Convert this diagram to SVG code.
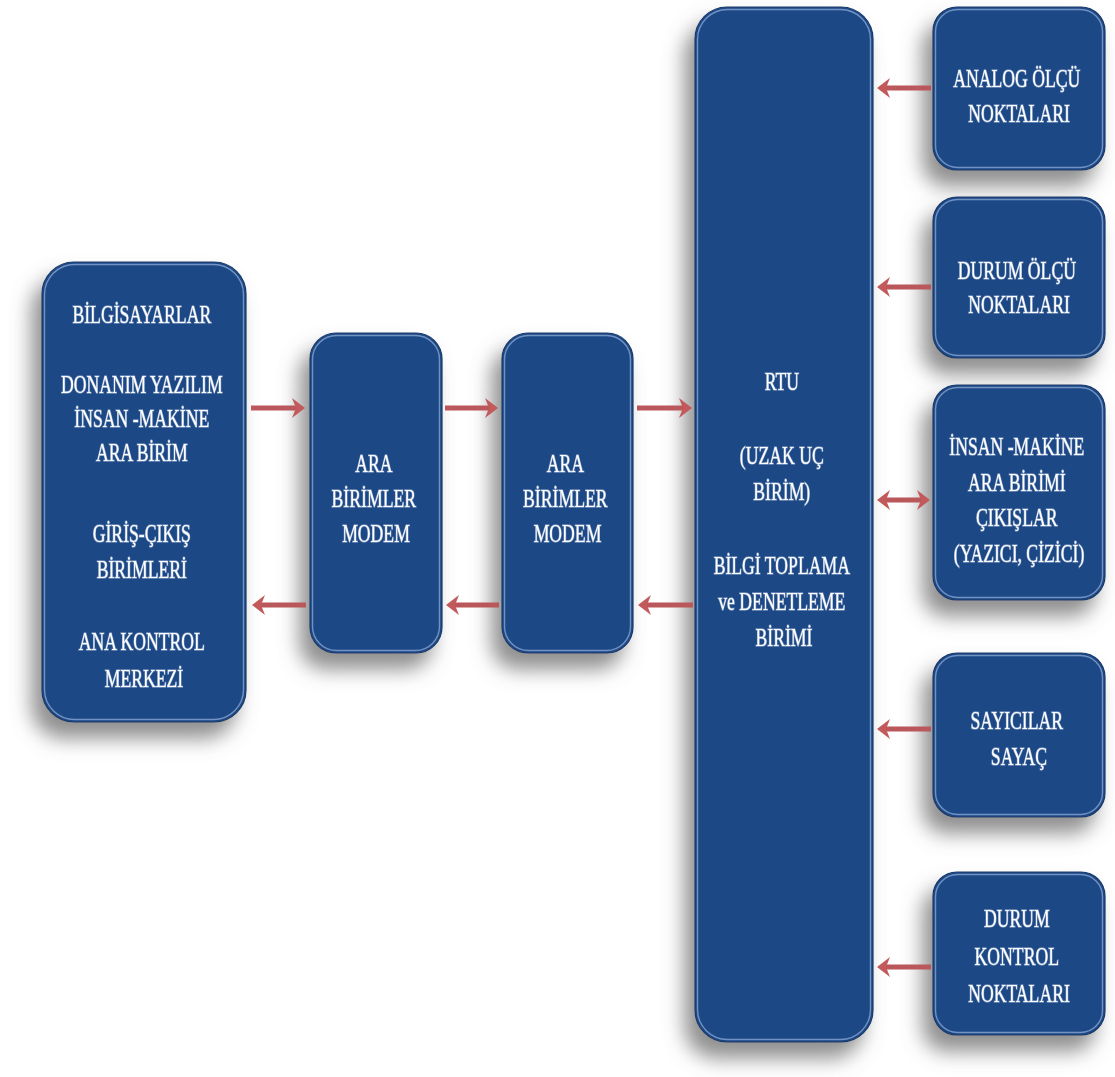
<svg xmlns="http://www.w3.org/2000/svg" width="1115" height="1077" viewBox="0 0 1115 1077">
  <style>
    .box { fill: #1f4a86; stroke: #163a6c; stroke-width: 1.2; }
    .rim { fill: none; stroke: #86a4d2; stroke-width: 1.4; stroke-opacity: 0.8; }
    .lbl { font-family: "Liberation Serif", "Times New Roman", serif; font-size: 26px; fill: #ffffff;
           stroke: #b9cbe8; stroke-width: 1.5; stroke-opacity: 0.55; paint-order: stroke; text-anchor: middle; }
    .arrow { fill: none; stroke: #b9575a; stroke-width: 5; }
  </style>
  <defs>
    <!-- soft grey shadow thrown down and to the left -->
    <filter id="shadow" x="-40%" y="-20%" width="180%" height="150%">
      <feGaussianBlur in="SourceAlpha" stdDeviation="10"/>
      <feOffset dx="-10" dy="16" result="blur"/>
      <feFlood flood-color="#6a6a6a" flood-opacity="0.75"/>
      <feComposite in2="blur" operator="in" result="shade"/>
      <feMerge>
        <feMergeNode in="shade"/>
        <feMergeNode in="SourceGraphic"/>
      </feMerge>
    </filter>
    <marker id="head" viewBox="0 -12 16 24" refX="6" refY="0" markerWidth="16" markerHeight="24"
            markerUnits="userSpaceOnUse" orient="auto-start-reverse">
      <path d="M0,-10 L13,0 L0,10 L4,0 Z" fill="#c25a5b"/>
    </marker>
  </defs>

  <rect width="1115" height="1077" fill="#ffffff"/>

  <!-- control centre -->
  <g id="node-control-centre" filter="url(#shadow)">
    <rect class="box" x="42" y="262" width="204" height="460" rx="32"/>
    <rect class="rim" x="44.5" y="264.5" width="199" height="455" rx="30"/>
    <text class="lbl" transform="translate(144,0) scale(0.68,1)">
      <tspan x="0" y="323">BİLGİSAYARLAR</tspan>
      <tspan x="0" y="393">DONANIM YAZILIM</tspan>
      <tspan x="0" y="427">İNSAN -MAKİNE</tspan>
      <tspan x="0" y="461">ARA BİRİM</tspan>
      <tspan x="0" y="542">GİRİŞ-ÇIKIŞ</tspan>
      <tspan x="0" y="578">BİRİMLERİ</tspan>
      <tspan x="0" y="650">ANA KONTROL</tspan>
      <tspan x="0" y="687">MERKEZİ</tspan>
    </text>
  </g>

  <!-- modem pair -->
  <g id="node-modem-1" filter="url(#shadow)">
    <rect class="box" x="310" y="333" width="132" height="320" rx="26"/>
    <rect class="rim" x="312.5" y="335.5" width="127" height="315" rx="24"/>
    <text class="lbl" transform="translate(376,0) scale(0.68,1)">
      <tspan x="0" y="472">ARA</tspan>
      <tspan x="0" y="507">BİRİMLER</tspan>
      <tspan x="0" y="542">MODEM</tspan>
    </text>
  </g>

  <g id="node-modem-2" filter="url(#shadow)">
    <rect class="box" x="502" y="333" width="131" height="320" rx="26"/>
    <rect class="rim" x="504.5" y="335.5" width="126" height="315" rx="24"/>
    <text class="lbl" transform="translate(567.5,0) scale(0.68,1)">
      <tspan x="0" y="472">ARA</tspan>
      <tspan x="0" y="507">BİRİMLER</tspan>
      <tspan x="0" y="542">MODEM</tspan>
    </text>
  </g>

  <!-- remote terminal unit -->
  <g id="node-rtu" filter="url(#shadow)">
    <rect class="box" x="695" y="7" width="178" height="1035" rx="32"/>
    <rect class="rim" x="697.5" y="9.5" width="173" height="1030" rx="30"/>
    <text class="lbl" transform="translate(784,0) scale(0.68,1)">
      <tspan x="0" y="390">RTU</tspan>
      <tspan x="0" y="464">(UZAK UÇ</tspan>
      <tspan x="0" y="500">BİRİM)</tspan>
      <tspan x="0" y="574">BİLGİ TOPLAMA</tspan>
      <tspan x="0" y="610">ve DENETLEME</tspan>
      <tspan x="0" y="646">BİRİMİ</tspan>
    </text>
  </g>

  <!-- field-side units -->
  <g id="node-analog" filter="url(#shadow)">
    <rect class="box" x="933" y="7" width="172" height="163" rx="24"/>
    <rect class="rim" x="935.5" y="9.5" width="167" height="158" rx="22"/>
    <text class="lbl" transform="translate(1019,0) scale(0.68,1)">
      <tspan x="0" y="87">ANALOG ÖLÇÜ</tspan>
      <tspan x="0" y="122">NOKTALARI</tspan>
    </text>
  </g>

  <g id="node-status" filter="url(#shadow)">
    <rect class="box" x="933" y="197" width="172" height="161" rx="24"/>
    <rect class="rim" x="935.5" y="199.5" width="167" height="156" rx="22"/>
    <text class="lbl" transform="translate(1019,0) scale(0.68,1)">
      <tspan x="0" y="279">DURUM ÖLÇÜ</tspan>
      <tspan x="0" y="313">NOKTALARI</tspan>
    </text>
  </g>

  <g id="node-hmi" filter="url(#shadow)">
    <rect class="box" x="933" y="385" width="172" height="215" rx="24"/>
    <rect class="rim" x="935.5" y="387.5" width="167" height="210" rx="22"/>
    <text class="lbl" transform="translate(1019,0) scale(0.68,1)">
      <tspan x="0" y="455">İNSAN -MAKİNE</tspan>
      <tspan x="0" y="491">ARA BİRİMİ</tspan>
      <tspan x="0" y="526">ÇIKIŞLAR</tspan>
      <tspan x="0" y="562">(YAZICI, ÇİZİCİ)</tspan>
    </text>
  </g>

  <g id="node-counters" filter="url(#shadow)">
    <rect class="box" x="933" y="653" width="172" height="164" rx="24"/>
    <rect class="rim" x="935.5" y="655.5" width="167" height="159" rx="22"/>
    <text class="lbl" transform="translate(1019,0) scale(0.68,1)">
      <tspan x="0" y="729">SAYICILAR</tspan>
      <tspan x="0" y="765">SAYAÇ</tspan>
    </text>
  </g>

  <g id="node-control-points" filter="url(#shadow)">
    <rect class="box" x="933" y="872" width="172" height="163" rx="24"/>
    <rect class="rim" x="935.5" y="874.5" width="167" height="158" rx="22"/>
    <text class="lbl" transform="translate(1019,0) scale(0.68,1)">
      <tspan x="0" y="927">DURUM</tspan>
      <tspan x="0" y="965">KONTROL</tspan>
      <tspan x="0" y="1002">NOKTALARI</tspan>
    </text>
  </g>

  <!-- connectors -->
  <g id="connectors">
    <path class="arrow" d="M251,408 H298" marker-end="url(#head)"/>
    <path class="arrow" d="M306,605 H259" marker-end="url(#head)"/>
    <path class="arrow" d="M445,408 H491" marker-end="url(#head)"/>
    <path class="arrow" d="M499,605 H453" marker-end="url(#head)"/>
    <path class="arrow" d="M637,408 H685" marker-end="url(#head)"/>
    <path class="arrow" d="M693,605 H645" marker-end="url(#head)"/>
    <path class="arrow" d="M931,88 H884" marker-end="url(#head)"/>
    <path class="arrow" d="M931,287 H884" marker-end="url(#head)"/>
    <path class="arrow" d="M884,500 H923" marker-start="url(#head)" marker-end="url(#head)"/>
    <path class="arrow" d="M931,729 H884" marker-end="url(#head)"/>
    <path class="arrow" d="M931,967 H884" marker-end="url(#head)"/>
  </g>
</svg>
